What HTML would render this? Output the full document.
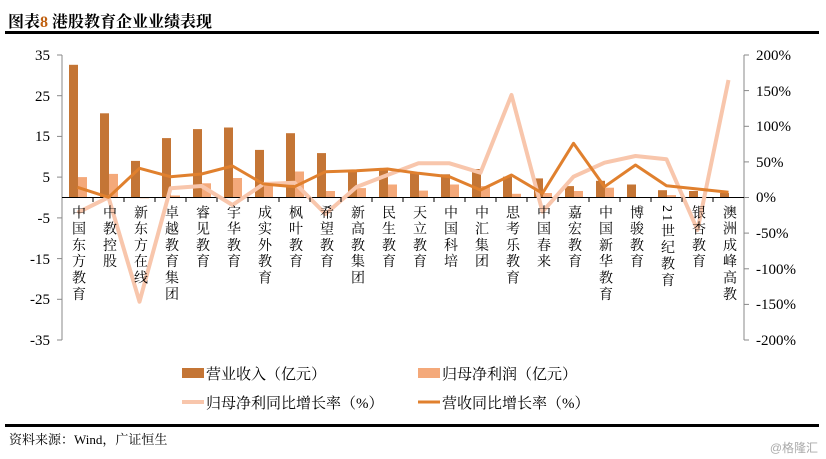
<!DOCTYPE html>
<html><head><meta charset="utf-8"><style>
body{margin:0;background:#fff;width:826px;height:459px;position:relative;overflow:hidden;font-family:"Liberation Serif","Noto Serif CJK SC",serif;}
.lb{position:absolute;top:205px;writing-mode:vertical-rl;font-size:14px;letter-spacing:2.3px;line-height:16px;color:#000;font-family:"Liberation Serif","Noto Serif CJK SC",serif;}
.t{position:absolute;font-size:14px;color:#000;}
</style></head><body>
<div class="t" style="left:8px;top:9px;font-size:16px;font-weight:bold;font-family:'Liberation Serif','Noto Serif CJK SC',serif;">图表<span style="color:#c06010">8</span> 港股教育企业业绩表现</div>
<div style="position:absolute;left:5px;top:31px;width:814px;height:3px;background:#000"></div>
<svg width="826" height="459" style="position:absolute;left:0;top:0" font-family="Liberation Serif, serif" font-size="15">
<g stroke="#888" stroke-width="1">
<line x1="62" y1="55" x2="62" y2="340"/>
<line x1="744" y1="55" x2="744" y2="340"/>
<line x1="57" y1="55" x2="62" y2="55"/><line x1="57" y1="95.7" x2="62" y2="95.7"/><line x1="57" y1="136.4" x2="62" y2="136.4"/><line x1="57" y1="177.1" x2="62" y2="177.1"/><line x1="57" y1="217.9" x2="62" y2="217.9"/><line x1="57" y1="258.6" x2="62" y2="258.6"/><line x1="57" y1="299.3" x2="62" y2="299.3"/><line x1="57" y1="340" x2="62" y2="340"/>
<line x1="744" y1="55" x2="749" y2="55"/><line x1="744" y1="90.6" x2="749" y2="90.6"/><line x1="744" y1="126.3" x2="749" y2="126.3"/><line x1="744" y1="161.9" x2="749" y2="161.9"/><line x1="744" y1="197.5" x2="749" y2="197.5"/><line x1="744" y1="233.1" x2="749" y2="233.1"/><line x1="744" y1="268.8" x2="749" y2="268.8"/><line x1="744" y1="304.4" x2="749" y2="304.4"/><line x1="744" y1="340" x2="749" y2="340"/>
</g>
<g text-anchor="end" fill="#000">
<text x="50" y="60">35</text><text x="50" y="101">25</text><text x="50" y="141">15</text><text x="50" y="182">5</text><text x="50" y="223">-5</text><text x="50" y="264">-15</text><text x="50" y="304">-25</text><text x="50" y="345">-35</text>
</g>
<g fill="#000">
<text x="756" y="60">200%</text><text x="756" y="96">150%</text><text x="756" y="131">100%</text><text x="756" y="167">50%</text><text x="756" y="202">0%</text><text x="756" y="238">-50%</text><text x="756" y="274">-100%</text><text x="756" y="309">-150%</text><text x="756" y="345">-200%</text>
</g>
<g fill="#c47535">
<rect x="69" y="64.8" width="9" height="132.7"/><rect x="100" y="113.3" width="9" height="84.2"/><rect x="131" y="160.9" width="9" height="36.6"/><rect x="162" y="138.1" width="9" height="59.4"/><rect x="193" y="129.1" width="9" height="68.4"/><rect x="224" y="127.5" width="9" height="70"/><rect x="255" y="149.9" width="9" height="47.6"/><rect x="286" y="133.2" width="9" height="64.3"/><rect x="317" y="153.1" width="9" height="44.4"/><rect x="348" y="170.2" width="9" height="27.3"/><rect x="379" y="169" width="9" height="28.5"/><rect x="410" y="172.7" width="9" height="24.8"/><rect x="441" y="174.3" width="9" height="23.2"/><rect x="472" y="169" width="9" height="28.5"/><rect x="503" y="176.7" width="9" height="20.8"/><rect x="534" y="178.4" width="9" height="19.1"/><rect x="565" y="186.1" width="9" height="11.4"/><rect x="596" y="180.8" width="9" height="16.7"/><rect x="627" y="184.5" width="9" height="13"/><rect x="658" y="190.2" width="9" height="7.3"/><rect x="689" y="191" width="9" height="6.5"/><rect x="720" y="193" width="9" height="4.5"/>
</g>
<g fill="#f4a97a">
<rect x="78" y="177.1" width="9" height="20.4"/><rect x="109" y="173.9" width="9" height="23.6"/><rect x="140" y="197.5" width="9" height="0.8"/><rect x="171" y="195.5" width="9" height="2"/><rect x="202" y="183.3" width="9" height="14.2"/><rect x="233" y="178" width="9" height="19.5"/><rect x="264" y="185.3" width="9" height="12.2"/><rect x="295" y="171.5" width="9" height="26"/><rect x="326" y="191" width="9" height="6.5"/><rect x="357" y="188.1" width="9" height="9.4"/><rect x="388" y="184.5" width="9" height="13"/><rect x="419" y="190.6" width="9" height="6.9"/><rect x="450" y="184.5" width="9" height="13"/><rect x="481" y="186.1" width="9" height="11.4"/><rect x="512" y="193.8" width="9" height="3.7"/><rect x="543" y="193" width="9" height="4.5"/><rect x="574" y="191" width="9" height="6.5"/><rect x="605" y="187.7" width="9" height="9.8"/><rect x="636" y="197.1" width="9" height="0.4"/><rect x="667" y="195.1" width="9" height="2.4"/>
</g>
<line x1="62" y1="197.5" x2="744" y2="197.5" stroke="#000" stroke-width="1"/>
<polyline fill="none" stroke="#f8c6ac" stroke-width="4" stroke-linejoin="round" points="77.5,212.7 108.5,197.3 139.5,301.7 170.5,188.3 201.5,186 232.5,205 263.5,184 294.5,182.7 325.5,214 356.5,187 387.5,175 418.5,163.3 449.5,163.3 480.5,172.7 511.5,95 542.5,211.7 573.5,176.7 604.5,162.7 635.5,156 666.5,159.3 697.5,230 728.5,80"/>
<polyline fill="none" stroke="#e0802e" stroke-width="3" stroke-linejoin="round" points="77.5,187.3 108.5,197.3 139.5,168.3 170.5,176.7 201.5,174 232.5,166 263.5,184 294.5,186.7 325.5,171.7 356.5,170.7 387.5,169 418.5,173.3 449.5,176.7 480.5,190 511.5,175 542.5,193.3 573.5,143.3 604.5,186.7 635.5,165 666.5,185.7 697.5,189 728.5,192.3"/>
<g stroke="#000" stroke-width="1">
<line x1="93" y1="197.5" x2="93" y2="202"/><line x1="124" y1="197.5" x2="124" y2="202"/><line x1="155" y1="197.5" x2="155" y2="202"/><line x1="186" y1="197.5" x2="186" y2="202"/><line x1="217" y1="197.5" x2="217" y2="202"/><line x1="248" y1="197.5" x2="248" y2="202"/><line x1="279" y1="197.5" x2="279" y2="202"/><line x1="310" y1="197.5" x2="310" y2="202"/><line x1="341" y1="197.5" x2="341" y2="202"/><line x1="372" y1="197.5" x2="372" y2="202"/><line x1="403" y1="197.5" x2="403" y2="202"/><line x1="434" y1="197.5" x2="434" y2="202"/><line x1="465" y1="197.5" x2="465" y2="202"/><line x1="496" y1="197.5" x2="496" y2="202"/><line x1="527" y1="197.5" x2="527" y2="202"/><line x1="558" y1="197.5" x2="558" y2="202"/><line x1="589" y1="197.5" x2="589" y2="202"/><line x1="620" y1="197.5" x2="620" y2="202"/><line x1="651" y1="197.5" x2="651" y2="202"/><line x1="682" y1="197.5" x2="682" y2="202"/><line x1="713" y1="197.5" x2="713" y2="202"/>
</g>
<rect x="182" y="368" width="22" height="10" fill="#c47535"/>
<rect x="418" y="368" width="22" height="10" fill="#f4a97a"/>
<line x1="182" y1="402" x2="204" y2="402" stroke="#f8c6ac" stroke-width="4"/>
<line x1="418" y1="402" x2="440" y2="402" stroke="#e0802e" stroke-width="3"/>
<g font-family="Liberation Serif, Noto Serif CJK SC, serif" font-size="15" fill="#000">
<text x="206" y="379">营业收入（亿元）</text>
<text x="442" y="379">归母净利润（亿元）</text>
<text x="206" y="408">归母净利同比增长率（%）</text>
<text x="442" y="408">营收同比增长率（%）</text>
</g>
<rect x="5" y="424" width="814" height="3" fill="#000"/>
<text x="9" y="444" font-size="13" font-family="Liberation Serif, Noto Serif CJK SC, serif">资料来源：Wind，广证恒生</text>
<text x="818" y="452" font-size="12" text-anchor="end" fill="#aaa" font-family="Liberation Sans, Noto Sans CJK SC, sans-serif">@格隆汇</text>
</svg>
<div class="lb" style="left:69px">中国东方教育</div>
<div class="lb" style="left:100px">中教控股</div>
<div class="lb" style="left:131px">新东方在线</div>
<div class="lb" style="left:162px">卓越教育集团</div>
<div class="lb" style="left:193px">睿见教育</div>
<div class="lb" style="left:224px">宇华教育</div>
<div class="lb" style="left:255px">成实外教育</div>
<div class="lb" style="left:286px">枫叶教育</div>
<div class="lb" style="left:317px">希望教育</div>
<div class="lb" style="left:348px">新高教集团</div>
<div class="lb" style="left:379px">民生教育</div>
<div class="lb" style="left:410px">天立教育</div>
<div class="lb" style="left:441px">中国科培</div>
<div class="lb" style="left:472px">中汇集团</div>
<div class="lb" style="left:503px">思考乐教育</div>
<div class="lb" style="left:534px">中国春来</div>
<div class="lb" style="left:565px">嘉宏教育</div>
<div class="lb" style="left:596px">中国新华教育</div>
<div class="lb" style="left:627px">博骏教育</div>
<div class="lb" style="left:658px">21世纪教育</div>
<div class="lb" style="left:689px">银杏教育</div>
<div class="lb" style="left:720px">澳洲成峰高教</div>
</body></html>
